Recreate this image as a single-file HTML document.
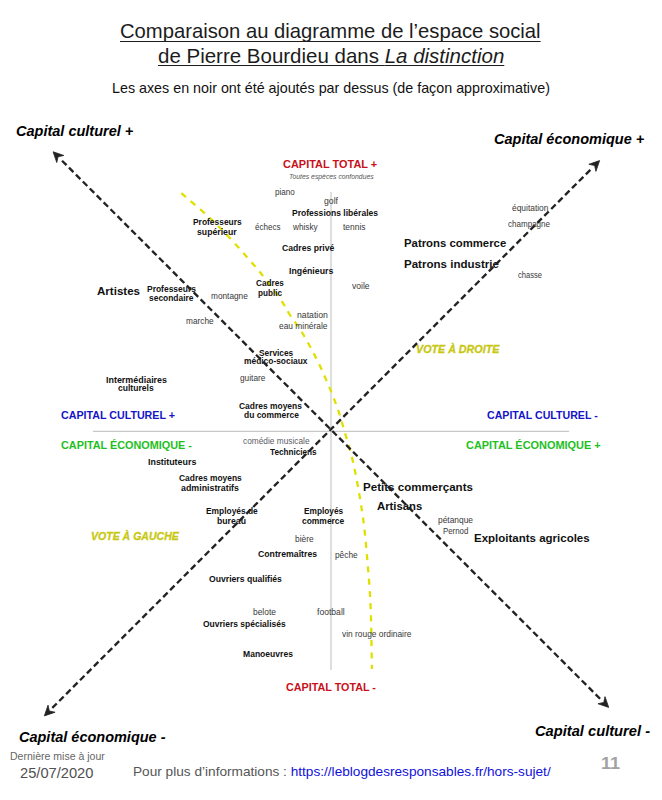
<!DOCTYPE html>
<html><head><meta charset="utf-8"><style>
html,body{margin:0;padding:0;background:#fff;width:662px;height:800px;overflow:hidden;}
#c{position:relative;width:662px;height:800px;}
#c span{position:absolute;white-space:nowrap;line-height:1;transform-origin:0 0;font-family:"Liberation Sans",sans-serif;}
</style></head><body><div id="c">
<svg width="662" height="800" style="position:absolute;left:0;top:0">
<line x1="331" y1="192" x2="331" y2="670" stroke="#cdcdcd" stroke-width="1.3"/>
<line x1="93" y1="431.4" x2="569" y2="431.4" stroke="#c8c8c8" stroke-width="1.3"/>
<path d="M180.90,192.70 C185.42,196.63 199.85,208.75 208.00,216.30 C216.15,223.85 222.38,230.15 229.80,238.00 C237.22,245.85 247.07,257.20 252.50,263.40 C257.93,269.60 257.65,269.10 262.40,275.20 C267.15,281.30 276.40,293.37 281.00,300.00 C285.60,306.63 286.33,309.33 290.00,315.00 C293.67,320.67 298.00,325.50 303.00,334.00 C308.00,342.50 314.50,354.33 320.00,366.00 C325.50,377.67 331.83,392.83 336.00,404.00 C340.17,415.17 342.20,423.50 345.00,433.00 C347.80,442.50 350.47,451.08 352.80,461.00 C355.13,470.92 357.17,482.03 359.00,492.50 C360.83,502.97 362.48,513.38 363.80,523.80 C365.12,534.22 365.97,544.63 366.90,555.00 C367.83,565.37 368.72,575.58 369.40,586.00 C370.08,596.42 370.58,603.67 371.00,617.50 C371.42,631.33 371.75,660.42 371.90,669.00" fill="none" stroke="#e0e000" stroke-width="2.3" stroke-dasharray="6,6.3" stroke-dashoffset="-0.7"/>
</svg>
<span style="left:120.00px;top:20.95px;font-size:20.3px;font-weight:normal;font-style:normal;color:#1c1c1c;transform:scaleX(0.9976);text-decoration:underline;text-decoration-thickness:1px;text-underline-offset:3px;text-decoration-skip-ink:none;">Comparaison au diagramme de l’espace social</span>
<span style="left:111.70px;top:80.67px;font-size:14.5px;font-weight:normal;font-style:normal;color:#111;transform:scaleX(0.9860);">Les axes en noir ont été ajoutés par dessus (de façon approximative)</span>
<span style="left:15.70px;top:122.65px;font-size:15px;font-weight:bold;font-style:italic;color:#000;transform:scaleX(0.9670);">Capital culturel +</span>
<span style="left:493.60px;top:130.65px;font-size:15px;font-weight:bold;font-style:italic;color:#000;transform:scaleX(0.9665);">Capital économique +</span>
<span style="left:18.50px;top:729.25px;font-size:15px;font-weight:bold;font-style:italic;color:#000;transform:scaleX(0.9657);">Capital économique -</span>
<span style="left:535.00px;top:723.45px;font-size:15px;font-weight:bold;font-style:italic;color:#000;transform:scaleX(0.9787);">Capital culturel -</span>
<span style="left:283.30px;top:159.12px;font-size:11.5px;font-weight:bold;font-style:normal;color:#c8101a;transform:scaleX(0.9525);">CAPITAL TOTAL +</span>
<span style="left:288.80px;top:172.55px;font-size:7px;font-weight:normal;font-style:italic;color:#555;transform:scaleX(0.9735);">Toutes espèces confondues</span>
<span style="left:286.00px;top:681.61px;font-size:11.4px;font-weight:bold;font-style:normal;color:#c8101a;transform:scaleX(0.9454);">CAPITAL TOTAL -</span>
<span style="left:61.30px;top:409.73px;font-size:11.5px;font-weight:bold;font-style:normal;color:#1414c8;transform:scaleX(0.9283);">CAPITAL CULTUREL +</span>
<span style="left:487.00px;top:409.73px;font-size:11.5px;font-weight:bold;font-style:normal;color:#1414c8;transform:scaleX(0.9233);">CAPITAL CULTUREL -</span>
<span style="left:61.30px;top:439.93px;font-size:11.5px;font-weight:bold;font-style:normal;color:#1ec01e;transform:scaleX(0.9424);">CAPITAL ÉCONOMIQUE -</span>
<span style="left:466.00px;top:439.93px;font-size:11.5px;font-weight:bold;font-style:normal;color:#1ec01e;transform:scaleX(0.9499);">CAPITAL ÉCONOMIQUE +</span>
<span style="left:416.20px;top:343.68px;font-size:11.2px;font-weight:bold;font-style:italic;color:#c8c812;transform:scaleX(0.9577);-webkit-text-stroke:0.3px #c8c812;">VOTE À DROITE</span>
<span style="left:91.40px;top:531.48px;font-size:11.2px;font-weight:bold;font-style:italic;color:#c8c812;transform:scaleX(0.9413);-webkit-text-stroke:0.3px #c8c812;">VOTE À GAUCHE</span>
<span style="left:291.80px;top:209.18px;font-size:9.2px;font-weight:bold;font-style:normal;color:#111;transform:scaleX(0.9309);">Professions libérales</span>
<span style="left:193.00px;top:218.48px;font-size:9.2px;font-weight:bold;font-style:normal;color:#111;transform:scaleX(0.9173);">Professeurs</span>
<span style="left:197.30px;top:227.68px;font-size:9.2px;font-weight:bold;font-style:normal;color:#111;transform:scaleX(0.9475);">supérieur</span>
<span style="left:281.60px;top:244.28px;font-size:9.2px;font-weight:bold;font-style:normal;color:#111;transform:scaleX(0.9408);">Cadres privé</span>
<span style="left:289.30px;top:266.88px;font-size:9.2px;font-weight:bold;font-style:normal;color:#111;transform:scaleX(0.9527);">Ingénieurs</span>
<span style="left:255.80px;top:279.18px;font-size:9.2px;font-weight:bold;font-style:normal;color:#111;transform:scaleX(0.8910);">Cadres</span>
<span style="left:257.50px;top:288.78px;font-size:9.2px;font-weight:bold;font-style:normal;color:#111;transform:scaleX(0.8893);">public</span>
<span style="left:147.00px;top:285.18px;font-size:9.2px;font-weight:bold;font-style:normal;color:#111;transform:scaleX(0.9211);">Professeurs</span>
<span style="left:149.00px;top:293.58px;font-size:9.2px;font-weight:bold;font-style:normal;color:#111;transform:scaleX(0.9177);">secondaire</span>
<span style="left:258.70px;top:349.38px;font-size:9.2px;font-weight:bold;font-style:normal;color:#111;transform:scaleX(0.9050);">Services</span>
<span style="left:244.00px;top:357.18px;font-size:9.2px;font-weight:bold;font-style:normal;color:#111;transform:scaleX(0.9137);">médico-sociaux</span>
<span style="left:105.70px;top:375.78px;font-size:9.2px;font-weight:bold;font-style:normal;color:#111;transform:scaleX(0.9714);">Intermédiaires</span>
<span style="left:118.30px;top:384.48px;font-size:9.2px;font-weight:bold;font-style:normal;color:#111;transform:scaleX(0.9321);">culturels</span>
<span style="left:239.00px;top:402.38px;font-size:9.2px;font-weight:bold;font-style:normal;color:#111;transform:scaleX(0.9197);">Cadres moyens</span>
<span style="left:243.50px;top:410.58px;font-size:9.2px;font-weight:bold;font-style:normal;color:#111;transform:scaleX(0.9197);">du commerce</span>
<span style="left:269.50px;top:448.18px;font-size:9.2px;font-weight:bold;font-style:normal;color:#111;transform:scaleX(0.8895);">Techniciens</span>
<span style="left:147.50px;top:458.08px;font-size:9.2px;font-weight:bold;font-style:normal;color:#111;transform:scaleX(0.9661);">Instituteurs</span>
<span style="left:178.60px;top:474.48px;font-size:9.2px;font-weight:bold;font-style:normal;color:#111;transform:scaleX(0.9168);">Cadres moyens</span>
<span style="left:181.00px;top:484.18px;font-size:9.2px;font-weight:bold;font-style:normal;color:#111;transform:scaleX(0.9619);">administratifs</span>
<span style="left:205.70px;top:507.18px;font-size:9.2px;font-weight:bold;font-style:normal;color:#111;transform:scaleX(0.9137);">Employés de</span>
<span style="left:217.30px;top:516.78px;font-size:9.2px;font-weight:bold;font-style:normal;color:#111;transform:scaleX(0.9446);">bureau</span>
<span style="left:303.50px;top:507.18px;font-size:9.2px;font-weight:bold;font-style:normal;color:#111;transform:scaleX(0.9011);">Employés</span>
<span style="left:301.60px;top:517.28px;font-size:9.2px;font-weight:bold;font-style:normal;color:#111;transform:scaleX(0.9196);">commerce</span>
<span style="left:257.60px;top:550.18px;font-size:9.2px;font-weight:bold;font-style:normal;color:#111;transform:scaleX(0.9487);">Contremaîtres</span>
<span style="left:209.30px;top:574.78px;font-size:9.2px;font-weight:bold;font-style:normal;color:#111;transform:scaleX(0.9395);">Ouvriers qualifiés</span>
<span style="left:203.30px;top:619.58px;font-size:9.2px;font-weight:bold;font-style:normal;color:#111;transform:scaleX(0.9251);">Ouvriers spécialisés</span>
<span style="left:242.70px;top:650.28px;font-size:9.2px;font-weight:bold;font-style:normal;color:#111;transform:scaleX(0.9311);">Manoeuvres</span>
<span style="left:97.00px;top:285.97px;font-size:11.8px;font-weight:bold;font-style:normal;color:#111;transform:scaleX(0.9795);">Artistes</span>
<span style="left:403.80px;top:238.47px;font-size:11.8px;font-weight:bold;font-style:normal;color:#111;transform:scaleX(0.9623);">Patrons commerce</span>
<span style="left:403.80px;top:258.97px;font-size:11.8px;font-weight:bold;font-style:normal;color:#111;transform:scaleX(0.9784);">Patrons industrie</span>
<span style="left:362.50px;top:482.27px;font-size:11.8px;font-weight:bold;font-style:normal;color:#111;transform:scaleX(0.9804);">Petits commerçants</span>
<span style="left:377.40px;top:500.87px;font-size:11.8px;font-weight:bold;font-style:normal;color:#111;transform:scaleX(0.9576);">Artisans</span>
<span style="left:474.00px;top:533.47px;font-size:11.8px;font-weight:bold;font-style:normal;color:#111;transform:scaleX(0.9747);">Exploitants agricoles</span>
<span style="left:274.80px;top:188.35px;font-size:9.0px;font-weight:normal;font-style:normal;color:#383838;transform:scaleX(0.9000);">piano</span>
<span style="left:323.60px;top:196.85px;font-size:9.0px;font-weight:normal;font-style:normal;color:#383838;transform:scaleX(0.9658);">golf</span>
<span style="left:254.60px;top:222.95px;font-size:9.0px;font-weight:normal;font-style:normal;color:#383838;transform:scaleX(0.8912);">échecs</span>
<span style="left:293.09px;top:222.95px;font-size:9.0px;font-weight:normal;font-style:normal;color:#383838;transform:scaleX(0.9151);">whisky</span>
<span style="left:342.50px;top:222.95px;font-size:9.0px;font-weight:normal;font-style:normal;color:#383838;transform:scaleX(0.9375);">tennis</span>
<span style="left:352.00px;top:282.05px;font-size:9.0px;font-weight:normal;font-style:normal;color:#383838;transform:scaleX(0.9514);">voile</span>
<span style="left:210.90px;top:291.95px;font-size:9.0px;font-weight:normal;font-style:normal;color:#383838;transform:scaleX(0.9200);">montagne</span>
<span style="left:185.80px;top:316.85px;font-size:9.0px;font-weight:normal;font-style:normal;color:#383838;transform:scaleX(0.9200);">marche</span>
<span style="left:296.60px;top:311.05px;font-size:9.0px;font-weight:normal;font-style:normal;color:#383838;transform:scaleX(0.9656);">natation</span>
<span style="left:279.00px;top:321.85px;font-size:9.0px;font-weight:normal;font-style:normal;color:#383838;transform:scaleX(0.9327);">eau minérale</span>
<span style="left:240.30px;top:374.35px;font-size:9.0px;font-weight:normal;font-style:normal;color:#383838;transform:scaleX(0.9236);">guitare</span>
<span style="left:511.60px;top:204.15px;font-size:9.0px;font-weight:normal;font-style:normal;color:#383838;transform:scaleX(0.9333);">équitation</span>
<span style="left:508.00px;top:220.15px;font-size:9.0px;font-weight:normal;font-style:normal;color:#383838;transform:scaleX(0.8936);">champagne</span>
<span style="left:518.00px;top:270.85px;font-size:9.0px;font-weight:normal;font-style:normal;color:#383838;transform:scaleX(0.8421);">chasse</span>
<span style="left:294.60px;top:535.15px;font-size:9.0px;font-weight:normal;font-style:normal;color:#383838;transform:scaleX(0.9300);">bière</span>
<span style="left:335.40px;top:551.35px;font-size:9.0px;font-weight:normal;font-style:normal;color:#383838;transform:scaleX(0.9224);">pêche</span>
<span style="left:253.30px;top:607.75px;font-size:9.0px;font-weight:normal;font-style:normal;color:#383838;transform:scaleX(0.9347);">belote</span>
<span style="left:317.30px;top:607.75px;font-size:9.0px;font-weight:normal;font-style:normal;color:#383838;transform:scaleX(0.9552);">football</span>
<span style="left:342.30px;top:629.65px;font-size:9.0px;font-weight:normal;font-style:normal;color:#383838;transform:scaleX(0.9315);">vin rouge ordinaire</span>
<span style="left:437.80px;top:516.35px;font-size:9.0px;font-weight:normal;font-style:normal;color:#383838;transform:scaleX(0.9333);">pétanque</span>
<span style="left:442.70px;top:526.85px;font-size:9.0px;font-weight:normal;font-style:normal;color:#383838;transform:scaleX(0.8724);">Pernod</span>
<span style="left:243.40px;top:436.55px;font-size:9.0px;font-weight:normal;font-style:normal;color:#5c5c66;transform:scaleX(0.9236);">comédie musicale</span>
<span style="left:10.00px;top:752.00px;font-size:10px;font-weight:normal;font-style:normal;color:#666;transform:scaleX(1.0522);">Dernière mise à jour</span>
<span style="left:20.40px;top:766.00px;font-size:14px;font-weight:normal;font-style:normal;color:#505050;transform:scaleX(1.0471);">25/07/2020</span>
<span style="left:600.50px;top:755.15px;font-size:17px;font-weight:bold;font-style:normal;color:#a2a2a2;transform:scaleX(1.0611);">11</span>
<span style="left:158.20px;top:46.45px;font-size:20.3px;color:#1c1c1c;transform:scaleX(1.0103);text-decoration:underline;text-decoration-thickness:1px;text-underline-offset:2px;text-decoration-skip-ink:none;">de Pierre Bourdieu dans <i>La distinction</i></span>
<span style="left:133.30px;top:765.12px;font-size:13.5px;color:#555;transform:scaleX(1.0102);">Pour plus d’informations : <span style="position:static;color:#1010dc">https://leblogdesresponsables.fr/hors-sujet/</span></span>
<svg width="662" height="800" style="position:absolute;left:0;top:0">
<line x1="61.59" y1="160.29" x2="600.92" y2="699.62" stroke="#222" stroke-width="2.35" stroke-dasharray="6.3,3.5" stroke-dashoffset="9.15"/>
<line x1="51.77" y1="708.48" x2="591.82" y2="168.38" stroke="#222" stroke-width="2.35" stroke-dasharray="6.3,3.5" stroke-dashoffset="9.05"/>
<path d="M53.10,151.80 L63.85,155.48 L58.05,156.75 L56.78,162.55 Z" fill="#222" stroke="#222" stroke-width="0.8" stroke-linejoin="round"/>
<path d="M608.70,707.40 L597.95,703.72 L603.75,702.45 L605.02,696.65 Z" fill="#222" stroke="#222" stroke-width="0.8" stroke-linejoin="round"/>
<path d="M44.35,715.90 L48.03,705.15 L49.30,710.95 L55.10,712.22 Z" fill="#222" stroke="#222" stroke-width="0.8" stroke-linejoin="round"/>
<path d="M599.60,160.60 L595.92,171.35 L594.65,165.55 L588.85,164.28 Z" fill="#222" stroke="#222" stroke-width="0.8" stroke-linejoin="round"/>
</svg>
</div></body></html>
